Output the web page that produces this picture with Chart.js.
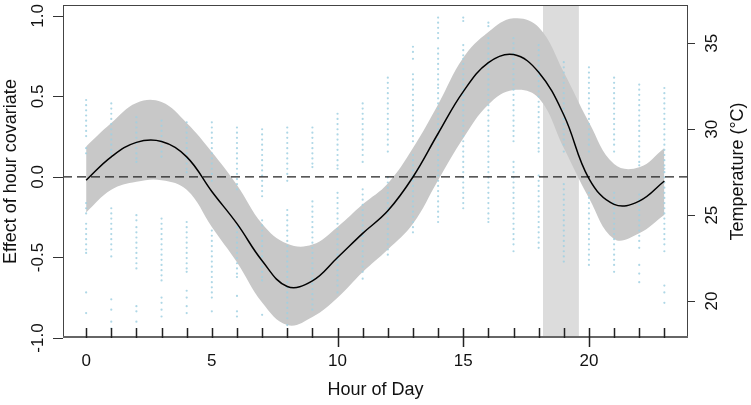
<!DOCTYPE html>
<html>
<head>
<meta charset="utf-8">
<script src="https://cdn.jsdelivr.net/npm/chart.js@4.4.1/dist/chart.umd.min.js"></script>
<style>
    html, body { margin: 0; padding: 0; background: #fff; }
    #wrap { width: 751px; height: 405px; }
</style>
</head>
<body>
<div id="wrap"><canvas id="hourChart" width="751" height="405"></canvas></div>
<script>
// Smooth effect of hour, with its confidence band
const fitHours  = [0, 1, 2, 3, 4, 5, 6, 7, 8, 9, 10, 11, 12, 13, 14, 15, 16, 17, 18, 19, 20, 21, 22, 23];
const fitEffect = [-0.02, 0.125, 0.215, 0.22, 0.125, -0.09, -0.29, -0.52, -0.68, -0.645, -0.50, -0.35, -0.21, 0.0, 0.27, 0.53, 0.71, 0.76, 0.65, 0.385, -0.01, -0.17, -0.15, -0.025];
const fitUpper  = [0.19, 0.335, 0.46, 0.465, 0.335, 0.155, -0.05, -0.29, -0.415, -0.42, -0.31, -0.17, -0.04, 0.18, 0.45, 0.74, 0.90, 0.985, 0.93, 0.65, 0.34, 0.08, 0.06, 0.18];
const fitLower  = [-0.22, -0.08, -0.03, -0.02, -0.08, -0.31, -0.53, -0.78, -0.92, -0.87, -0.75, -0.59, -0.45, -0.29, -0.02, 0.24, 0.45, 0.54, 0.49, 0.18, -0.13, -0.385, -0.35, -0.235];

// Highlighted hour window
const shadeStart = 18.17;
const shadeEnd = 19.6;

// Axis ticks
const hourTicks = [0, 1, 2, 3, 4, 5, 6, 7, 8, 9, 10, 11, 12, 13, 14, 15, 16, 17, 18, 19, 20, 21, 22, 23];
const xTickLabels = [0, 5, 10, 15, 20];
const xTicksOutward = [10, 15, 20];
const effectTicks = [-1.0, -0.5, 0.0, 0.5, 1.0];
const tempTicks = [20, 25, 30, 35];

// Observed temperatures (°C) at each hour 0..23
const tempsByHour = [
    [31.7,31.4,31.1,30.8,30.5,30.2,29.9,29.6,28.9,28.6,25.7,25.4,25.1,24.5,24.2,23.9,23.6,23.3,23.0,22.8,20.5,19.3],
    [31.5,31.2,30.9,30.6,30.3,30.0,29.7,29.4,29.1,28.8,28.6,25.4,25.1,24.8,24.5,24.2,23.9,23.6,23.3,23.0,22.6,20.1,19.5,18.8,18.4],
    [30.7,30.4,30.1,29.8,29.5,29.2,28.9,28.6,28.3,28.1,25.0,24.7,24.3,24.0,23.7,23.4,23.1,22.8,22.5,22.2,21.9,19.7,19.4,18.8],
    [30.5,30.2,29.9,29.6,29.3,29.0,28.7,28.4,24.8,24.5,24.2,23.9,23.6,23.3,23.0,22.7,22.4,22.1,21.8,21.5,21.2,20.2,19.9,19.5,19.1],
    [30.4,30.1,29.8,29.5,29.2,28.9,28.6,28.3,28.0,27.7,27.5,24.6,24.3,24.0,23.7,23.4,23.1,22.8,22.5,22.2,21.9,21.7,20.6,20.2,19.7,19.3],
    [30.4,30.1,29.8,29.5,29.2,28.9,28.6,28.3,28.0,27.7,27.4,27.0,24.1,23.8,23.5,23.2,22.9,22.6,22.3,22.0,21.7,21.4,21.1,20.8,20.5,20.2,19.4],
    [30.1,29.8,29.5,29.2,28.9,28.6,28.3,28.0,27.7,27.4,27.1,26.8,26.5,24.3,24.0,23.7,23.4,23.1,22.8,22.5,22.2,21.9,21.6,21.4,20.3,19.4,19.1],
    [30.0,29.7,29.4,29.1,28.8,28.5,28.2,27.9,27.6,27.3,27.0,26.7,26.4,26.1,24.7,24.4,24.1,23.8,23.5,23.2,22.9,22.6,22.3,22.0,21.7,21.4,21.2,19.2],
    [30.1,29.8,29.5,29.2,28.9,28.6,28.3,28.0,27.7,27.4,27.0,25.3,25.0,24.7,24.4,24.1,23.8,23.5,23.2,22.9,22.6,22.3,22.0,21.7,21.4,21.1,20.8,20.5,20.2,19.9,19.6,19.3,19.0,18.6],
    [30.1,29.8,29.5,29.2,28.9,28.6,28.3,28.0,27.8,25.8,25.5,25.2,24.9,24.6,24.3,24.0,23.7,23.4,23.1,22.8,22.5,22.2,21.9,21.6,21.3,21.0,20.7,20.4,20.1,19.8,19.5],
    [30.9,30.6,30.3,30.0,29.7,29.4,29.1,28.8,28.5,28.2,27.9,27.7,26.3,26.0,25.7,25.4,25.1,24.8,24.5,24.2,23.9,23.6,23.3,23.0,22.7,22.4,22.1,21.8,21.5,21.2,20.9,20.5],
    [31.5,31.2,30.9,30.6,30.3,30.0,29.7,29.4,29.1,28.8,28.5,28.1,26.5,26.2,25.9,25.6,25.3,25.0,24.7,24.4,24.1,23.8,23.5,23.2,22.9,22.6,22.3,22.0,21.7,21.3],
    [33.0,32.7,32.4,32.1,31.8,31.5,31.2,30.9,30.6,30.3,30.0,29.7,29.4,29.1,28.7,27.2,26.9,26.6,26.3,26.0,25.7,25.4,25.1,24.8,24.5,24.2,23.9,23.6,23.3,23.0,22.7],
    [34.8,34.5,34.1,33.2,32.9,32.6,32.3,32.0,31.7,31.4,31.1,30.8,30.5,30.2,29.9,29.6,29.3,28.5,28.2,27.9,27.6,27.3,27.0,26.7,26.4,26.1,25.8,25.5,25.2,24.9,24.6,24.3,24.0],
    [36.5,36.2,35.9,35.6,35.3,34.7,34.4,34.1,33.8,33.5,33.2,32.9,32.6,32.4,32.1,31.8,31.5,31.2,30.9,30.6,30.3,30.0,29.7,29.4,29.1,28.8,28.5,28.2,27.9,27.6,27.3,27.0,26.7,26.4,26.1,25.8,25.5,25.2,24.9,24.6],
    [36.5,36.3,34.9,34.6,34.3,34.1,33.8,33.5,33.2,32.9,32.6,32.3,32.0,31.7,31.4,31.1,30.8,30.5,30.2,29.9,29.6,29.3,29.0,28.7,28.4,28.1,27.8,27.5,27.2,26.9,26.6,26.3,26.0,25.7,25.4],
    [36.2,36.0,35.3,35.0,34.7,34.4,34.1,33.8,33.5,33.2,32.9,32.6,32.3,32.0,31.7,31.4,31.1,30.8,30.5,30.2,29.9,29.6,29.3,29.0,28.7,28.4,28.1,27.8,27.5,27.2,26.9,26.6,26.3,26.0,25.7,25.4,25.1,24.8,24.6],
    [35.3,35.0,34.7,34.4,34.1,33.8,33.5,33.2,32.9,32.6,32.3,32.0,31.7,31.4,31.1,30.8,30.5,30.2,29.9,29.6,29.3,28.1,27.8,27.5,27.2,26.9,26.6,26.3,26.0,25.7,25.4,25.1,24.8,24.5,24.2,23.9,23.6,23.3,22.9],
    [34.9,34.6,34.3,34.0,33.7,33.4,33.1,32.8,32.5,32.2,31.9,31.6,31.3,31.0,30.7,30.4,30.1,29.8,29.5,29.2,28.9,28.7,27.3,27.0,26.7,26.4,26.1,25.8,25.5,25.2,24.9,24.6,24.3,24.0,23.7,23.4,23.1],
    [33.9,33.6,33.3,33.0,32.7,32.4,32.1,31.8,31.5,31.2,30.9,30.6,30.3,30.0,29.7,29.4,29.1,28.7,26.8,26.5,26.2,25.9,25.6,25.3,25.0,24.7,24.4,24.1,23.8,23.5,23.2,22.9,22.6,22.3],
    [33.6,33.3,33.0,32.7,32.4,32.1,31.8,31.5,31.2,30.9,30.6,30.3,30.0,29.7,29.4,29.1,28.7,26.3,26.0,25.7,25.4,25.1,24.8,24.5,24.2,23.9,23.6,23.3,23.0,22.7,22.4,22.1],
    [33.0,32.7,32.4,32.1,31.8,31.5,31.2,30.9,30.6,30.3,30.0,29.7,29.4,29.1,28.7,26.3,26.0,25.7,25.4,25.1,24.8,24.5,24.2,23.9,23.6,23.3,23.0,22.7,22.4,22.1,21.7],
    [32.6,32.3,32.0,31.7,31.4,31.1,30.8,30.5,30.2,29.9,29.6,29.3,29.0,28.7,28.4,28.1,27.9,26.2,25.9,25.6,25.3,25.0,24.7,24.4,24.1,23.8,23.5,23.1,22.1,21.6,21.1],
    [32.4,32.1,31.8,31.5,31.2,30.9,30.6,30.3,30.0,29.7,29.4,29.1,28.8,28.5,28.2,27.9,27.7,27.5,27.2,26.9,26.6,26.3,26.0,25.7,25.4,25.1,24.8,24.5,24.2,23.9,23.6,23.3,22.9,20.9,20.5,19.9]
];

// Axis limits (R-style padding around the data)
const xMin = -0.92, xMax = 23.94;
const effectMin = -1.0, effectMax = 1.068;
const tempMin = 17.85, tempMax = 37.23;

const FONT_FAMILY = '"Liberation Sans", Arial, Helvetica, sans-serif';

function toPoints(xs, ys) {
    return xs.map((x, i) => ({ x: x, y: ys[i] }));
}

// 1. Build the scatter of temperatures
const tempPoints = [];
tempsByHour.forEach((temps, hour) => {
    temps.forEach(t => tempPoints.push({ x: hourTicks[hour], y: t }));
});

// 2. Axes, tick marks and rotated labels drawn R-style
const axesPlugin = {
    id: 'rAxes',
    afterDraw(chart) {
        const { ctx, chartArea: a, scales } = chart;
        const x = scales.x, y = scales.y, y2 = scales.y2;
        ctx.save();

        // frame
        ctx.strokeStyle = '#444';
        ctx.lineWidth = 1;
        ctx.strokeRect(a.left + 0.5, a.top + 0.5, a.right - a.left - 1, a.bottom - a.top - 1);
        ctx.strokeStyle = '#666';
        ctx.lineWidth = 2;
        ctx.beginPath();
        ctx.moveTo(a.left, a.bottom - 1);
        ctx.lineTo(a.right, a.bottom - 1);
        ctx.stroke();

        // bottom ticks: inward at every hour, outward at some labels
        ctx.strokeStyle = '#222';
        ctx.lineWidth = 1.5;
        ctx.beginPath();
        hourTicks.forEach(h => {
            const px = Math.round(x.getPixelForValue(h)) + 0.5;
            ctx.moveTo(px, a.bottom);
            ctx.lineTo(px, a.bottom - 10);
        });
        xTicksOutward.forEach(h => {
            const px = Math.round(x.getPixelForValue(h)) + 0.5;
            ctx.moveTo(px, a.bottom);
            ctx.lineTo(px, a.bottom + 9);
        });
        ctx.stroke();

        // left & right ticks (outward)
        ctx.lineWidth = 1;
        ctx.strokeStyle = '#333';
        ctx.beginPath();
        effectTicks.forEach(v => {
            const py = Math.round(y.getPixelForValue(v)) + 0.5;
            ctx.moveTo(a.left, py);
            ctx.lineTo(a.left - 10, py);
        });
        tempTicks.forEach(v => {
            const py = Math.round(y2.getPixelForValue(v)) + 0.5;
            ctx.moveTo(a.right, py);
            ctx.lineTo(a.right + 7, py);
        });
        ctx.stroke();

        ctx.fillStyle = '#111';
        ctx.font = '17px ' + FONT_FAMILY;

        // x tick labels
        ctx.textAlign = 'center';
        ctx.textBaseline = 'alphabetic';
        xTickLabels.forEach(h => {
            ctx.fillText(String(h), x.getPixelForValue(h), 366);
        });

        // rotated y tick labels (read bottom to top)
        const rotText = (txt, bx, cy) => {
            ctx.save();
            ctx.translate(bx, cy);
            ctx.rotate(-Math.PI / 2);
            ctx.textAlign = 'center';
            ctx.textBaseline = 'alphabetic';
            ctx.fillText(txt, 0, 0);
            ctx.restore();
        };
        effectTicks.forEach(v => rotText(v.toFixed(1), 43, y.getPixelForValue(v)));
        tempTicks.forEach(v => rotText(String(v), 717, y2.getPixelForValue(v)));

        // axis titles
        ctx.font = '18px ' + FONT_FAMILY;
        const midY = (a.top + a.bottom) / 2;
        ctx.fillText('Hour of Day', (a.left + a.right) / 2, 395);
        rotText('Effect of hour covariate', 16, midY);
        rotText('Temperature (°C)', 743, midY);

        ctx.restore();
    }
};

// 3. Chart
new Chart(document.getElementById('hourChart'), {
    type: 'line',
    data: {
        datasets: [
            {
                label: 'Window',
                data: [{ x: shadeStart, y: effectMax }, { x: shadeEnd, y: effectMax }],
                yAxisID: 'y',
                fill: 'start',
                backgroundColor: '#dcdcdc',
                borderWidth: 0,
                pointRadius: 0,
                order: 6
            },
            {
                label: 'Upper',
                data: toPoints(fitHours, fitUpper),
                yAxisID: 'y',
                fill: 2,
                backgroundColor: '#c8c8c8',
                borderColor: 'rgba(0,0,0,0)',
                borderWidth: 0,
                pointRadius: 0,
                tension: 0.4,
                order: 5
            },
            {
                label: 'Lower',
                data: toPoints(fitHours, fitLower),
                yAxisID: 'y',
                fill: false,
                borderColor: 'rgba(0,0,0,0)',
                borderWidth: 0,
                pointRadius: 0,
                tension: 0.4,
                order: 5
            },
            {
                label: 'Temperature',
                type: 'scatter',
                data: tempPoints,
                yAxisID: 'y2',
                pointRadius: 1.1,
                pointBorderWidth: 0,
                backgroundColor: 'rgba(160,208,226,0.85)',
                order: 3
            },
            {
                label: 'Zero',
                data: [{ x: xMin, y: 0 }, { x: xMax, y: 0 }],
                yAxisID: 'y',
                borderColor: '#222',
                borderWidth: 1.2,
                borderDash: [9, 5],
                pointRadius: 0,
                fill: false,
                order: 2
            },
            {
                label: 'Effect',
                data: toPoints(fitHours, fitEffect),
                yAxisID: 'y',
                borderColor: '#000',
                borderWidth: 1.5,
                pointRadius: 0,
                fill: false,
                tension: 0.4,
                order: 1
            }
        ]
    },
    options: {
        responsive: false,
        animation: false,
        devicePixelRatio: 1,
        layout: { padding: { left: 63, right: 63, top: 5, bottom: 67 } },
        plugins: { legend: { display: false }, tooltip: { enabled: false } },
        scales: {
            x: { type: 'linear', min: xMin, max: xMax, display: false },
            y: { type: 'linear', min: effectMin, max: effectMax, display: false },
            y2: { type: 'linear', position: 'right', min: tempMin, max: tempMax, display: false }
        }
    },
    plugins: [axesPlugin]
});
</script>
</body>
</html>
